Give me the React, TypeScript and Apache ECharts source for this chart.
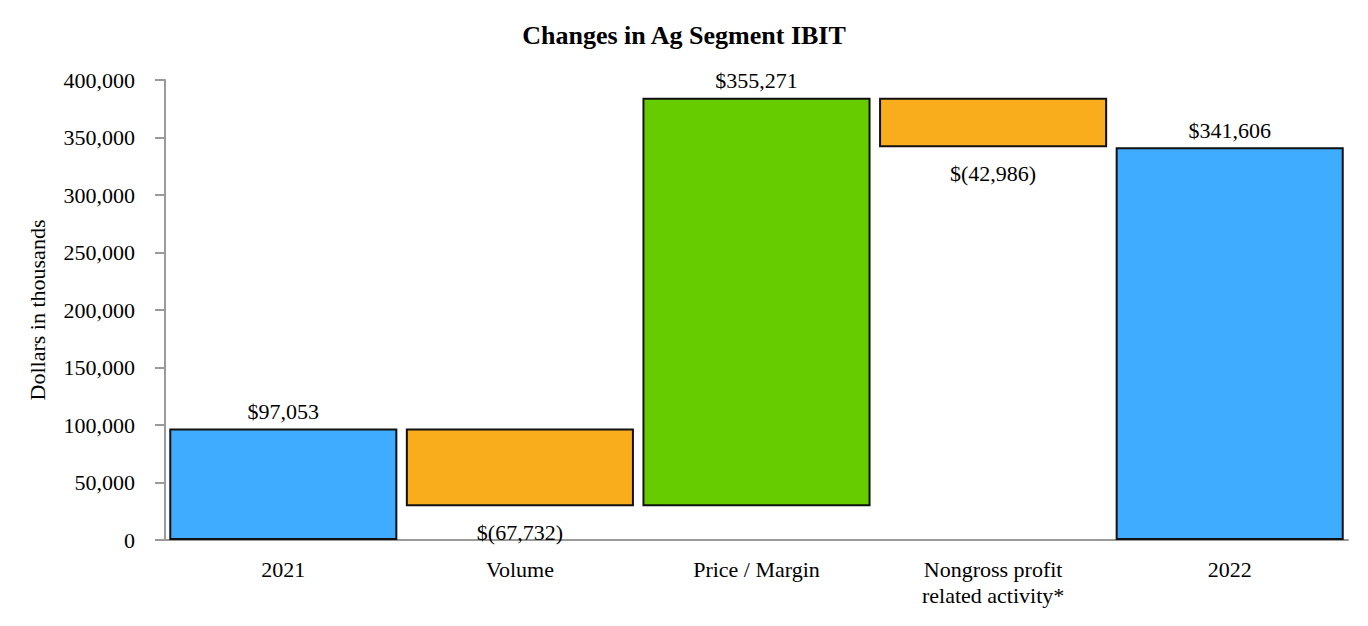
import React, { useEffect, useRef } from "react";
import * as echarts from "echarts";

const categories = ["2021", "Volume", "Price / Margin", "Nongross profit\nrelated activity*", "2022"];
const changes = [97053, -67732, 355271, -42986, 341606];
const isTotal = [true, false, false, false, true];
const barColors = ["#40ACFF", "#F9AC1C", "#66CC00", "#F9AC1C", "#40ACFF"];
const yTicks = [0, 50000, 100000, 150000, 200000, 250000, 300000, 350000, 400000];

const FONT = "'Liberation Serif', 'Times New Roman', serif";

function fmt(v: number): string {
  const s = Math.abs(v).toLocaleString("en-US");
  return v < 0 ? `$(${s})` : `$${s}`;
}

export default function App() {
  const ref = useRef<HTMLDivElement>(null);
  useEffect(() => {
    document.body.style.margin = "0";
    if (!ref.current) return;
    const chart = echarts.init(ref.current, undefined, { renderer: "svg" });

    const bases: number[] = [];
    const heights: number[] = [];
    let running = 0;
    changes.forEach((c, i) => {
      if (isTotal[i]) {
        bases.push(0);
        heights.push(c);
        running = c;
      } else if (c < 0) {
        bases.push(running + c);
        heights.push(-c);
        running = running + c;
      } else {
        bases.push(running);
        heights.push(c);
        running = running + c;
      }
    });

    chart.setOption({
      animation: false,
      title: {
        text: "Changes in Ag Segment IBIT",
        left: "center",
        top: 17,
        textStyle: { fontFamily: FONT, fontSize: 26, fontWeight: "bold", color: "#000" },
      },
      grid: { left: 165, right: 20, top: 80, bottom: 86, containLabel: false },
      xAxis: {
        type: "category",
        data: categories,
        axisLine: { lineStyle: { color: "#9a9a9a", width: 2 } },
        axisTick: { alignWithLabel: true, length: 8, lineStyle: { color: "#9a9a9a", width: 2 } },
        axisLabel: { fontFamily: FONT, fontSize: 22, color: "#000", margin: 16, lineHeight: 26 },
      },
      yAxis: {
        type: "value",
        min: yTicks[0],
        max: yTicks[yTicks.length - 1],
        interval: 50000,
        name: "Dollars in thousands",
        nameLocation: "middle",
        nameGap: 117,
        nameTextStyle: { fontFamily: FONT, fontSize: 22, color: "#000" },
        axisLine: { show: true, lineStyle: { color: "#9a9a9a", width: 2 } },
        axisTick: { show: true, length: 10, lineStyle: { color: "#9a9a9a", width: 2 } },
        splitLine: { show: false },
        axisLabel: {
          fontFamily: FONT,
          fontSize: 22,
          color: "#000",
          margin: 30,
          formatter: (v: number) => v.toLocaleString("en-US"),
        },
      },
      series: [
        {
          type: "bar",
          stack: "w",
          data: bases,
          itemStyle: { color: "transparent", borderColor: "transparent" },
          emphasis: { disabled: true },
          silent: true,
          barCategoryGap: "3.6%",
        },
        {
          type: "bar",
          stack: "w",
          barCategoryGap: "3.6%",
          data: heights.map((h, i) => ({
            value: h,
            itemStyle: { color: barColors[i], borderColor: "#111", borderWidth: 2 },
            label: {
              show: true,
              position: changes[i] < 0 ? "bottom" : "top",
              distance: changes[i] < 0 ? 15 : 6,
              formatter: () => fmt(changes[i]),
              fontFamily: FONT,
              fontSize: 22,
              color: "#000",
            },
          })),
        },
      ],
    });
    return () => chart.dispose();
  }, []);
  return (
    <div
      ref={ref}
      style={{ position: "absolute", left: 0, top: 0, width: 1368, height: 626 }}
    />
  );
}
